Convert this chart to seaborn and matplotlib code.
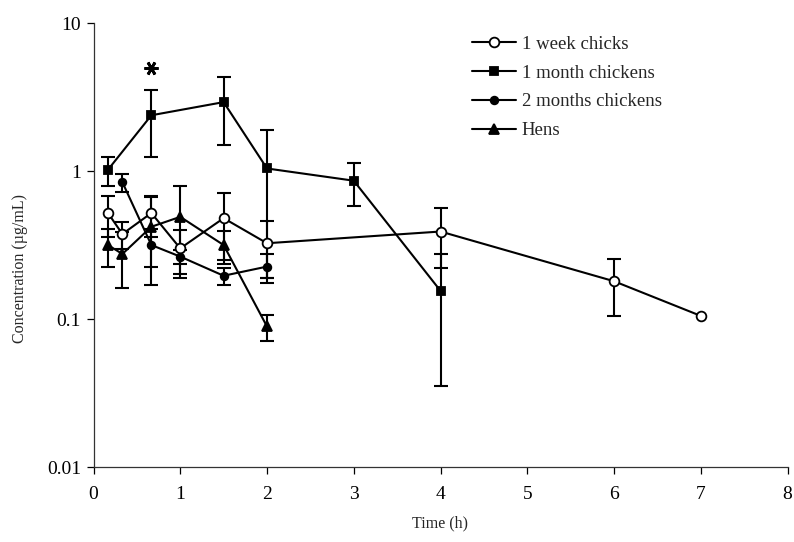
import numpy as np
import matplotlib
matplotlib.use("Agg")
import matplotlib.pyplot as plt
import seaborn as sns
sns.set_style("ticks")
plt.rcParams['font.family'] = ['Liberation Serif', 'DejaVu Serif']

# data (mean +/- sd, ug/mL)
week1_t = [0.167, 0.333, 0.667, 1, 1.5, 2, 4, 6, 7]
week1_c = [0.52, 0.375, 0.52, 0.30, 0.48, 0.325, 0.39, 0.18, 0.105]
week1_sd = [0.16, 0.08, 0.16, 0.10, 0.23, 0.135, 0.17, 0.076, 0.0]

month1_t = [0.167, 0.667, 1.5, 2, 3, 4]
month1_c = [1.02, 2.38, 2.92, 1.04, 0.86, 0.155]
month1_sd = [0.23, 1.14, 1.43, 0.85, 0.28, 0.12]

month2_t = [0.333, 0.667, 1, 1.5, 2]
month2_c = [0.84, 0.316, 0.264, 0.196, 0.226]
month2_sd = [0.12, 0.09, 0.03, 0.025, 0.05]

hens_t = [0.167, 0.333, 0.667, 1, 1.5, 2]
hens_c = [0.316, 0.275, 0.42, 0.49, 0.316, 0.089]
hens_sd = [0.09, 0.114, 0.25, 0.30, 0.08, 0.018]

star_t = [0.667]
star_c = [5.0]

series_names = ["1 week chicks", "1 month chickens", "2 months chickens", "Hens"]
x_ticks = [0, 1, 2, 3, 4, 5, 6, 7, 8]
y_ticks = [0.01, 0.1, 1, 10]
y_ticklabels = ["0.01", "0.1", "1", "10"]

# figure
fig = plt.figure(figsize=(7.94, 5.42), dpi=100)
ax = fig.add_axes([93.5/794, 75/542, 694/794, 444/542])
ax.set_yscale('log')

series = [(week1_t, week1_c, week1_sd), (month1_t, month1_c, month1_sd),
          (month2_t, month2_c, month2_sd), (hens_t, hens_c, hens_sd)]
styles = [dict(marker='o', markersize=7, markerfacecolor='white'),
          dict(marker='s', markersize=6, markerfacecolor='black'),
          dict(marker='o', markersize=5.5, markerfacecolor='black'),
          dict(marker='^', markersize=7, markerfacecolor='black')]

for (t, c, sd), name, st in zip(series, series_names, styles):
    t = np.array(t); c = np.array(c); sd = np.array(sd)
    m = sd > 0
    ax.errorbar(t[m], c[m], yerr=sd[m], fmt='none', ecolor='black',
                elinewidth=1.5, capsize=5, capthick=1.5, zorder=2)
    sns.lineplot(x=t, y=c, ax=ax, color='black', linewidth=1.5,
                 markeredgecolor='black', markeredgewidth=1.3,
                 label=name, zorder=3, errorbar=None, **st)

# significance mark
ax.plot(star_t, star_c, linestyle='none', marker=(6, 2, 90), markersize=10,
        color='black', markeredgewidth=2, zorder=4)

# axes options
ax.set_xlim(0, 8)
ax.set_ylim(0.01, 10)
ax.set_xticks(x_ticks)
ax.set_xticklabels([str(v) for v in x_ticks])
ax.set_yticks(y_ticks)
ax.set_yticklabels(y_ticklabels)
ax.minorticks_off()
ax.tick_params(axis='both', direction='out', length=5, width=0.9, colors='black', labelsize=14)
ax.tick_params(axis='x', pad=9)
ax.tick_params(axis='y', pad=4)
sns.despine(ax=ax)
for s in ['left', 'bottom']:
    ax.spines[s].set_color('#333333')
    ax.spines[s].set_linewidth(0.9)

# labeling
ax.set_xlabel('Time (h)', fontsize=11.5)
ax.set_ylabel('Concentration (µg/mL)', fontsize=11.5)
ax.xaxis.set_label_coords(0.5, -0.11)
ax.yaxis.set_label_coords(-0.095, 0.446)

ax.legend(frameon=False, loc='upper left', bbox_to_anchor=(472/794, 0.934),
          bbox_transform=fig.transFigure, fontsize=13.5, handlelength=2.35,
          handletextpad=0.3, labelspacing=0.62, borderpad=0, borderaxespad=0)

plt.savefig('out.png', dpi=100)
plt.close()
